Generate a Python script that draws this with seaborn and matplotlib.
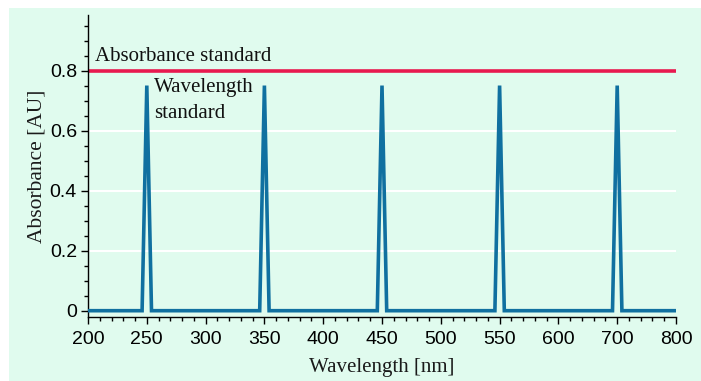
import numpy as np
import pandas as pd
import seaborn as sns
import matplotlib.pyplot as plt
from matplotlib.patches import Rectangle
from matplotlib.ticker import FixedLocator, FixedFormatter

# tick labels on the wavelength axis (evenly spaced, 650 is skipped)
x_ticks = [200, 250, 300, 350, 400, 450, 500, 550, 600, 700, 800]
y_ticks = [0, 0.2, 0.4, 0.6, 0.8]
y_labels = ["0", "0.2", "0.4", "0.6", "0.8"]

# spectrum of the wavelength standard
wavelength = [200, 246, 250, 254, 346, 350, 354, 446, 450, 454,
              546, 550, 554, 692, 700, 708, 800]
absorbance = [0, 0, 0.75, 0, 0, 0.75, 0, 0, 0.75, 0,
              0, 0.75, 0, 0, 0.75, 0, 0]

# absorbance standard level
abs_standard = 0.8

df = pd.DataFrame({"wavelength": wavelength, "absorbance": absorbance})

sns.set_theme(style="white")
plt.rcParams["font.family"] = ["Liberation Serif", "DejaVu Serif"]
tick_font = ["Liberation Sans Narrow", "Liberation Sans", "DejaVu Sans"]

mint = "#e0fbee"
blue = "#1070a0"
red = "#e8194f"

fig = plt.figure(figsize=(7.01, 3.81), dpi=100, facecolor="white")
# mint panel behind everything
fig.patches.append(Rectangle((9 / 701, 0), 1, (381 - 8) / 381, transform=fig.transFigure,
                             facecolor=mint, edgecolor="none", zorder=-10))
ax = fig.add_axes([88 / 701, 64 / 381, 588 / 701, 302 / 381])
ax.set_facecolor(mint)

# piecewise scale so the tick labels sit evenly spaced
idx = np.arange(len(x_ticks), dtype=float)
def fwd(x):
    return np.interp(x, x_ticks, idx)
def inv(p):
    return np.interp(p, idx, x_ticks)
ax.set_xscale("function", functions=(fwd, inv))

for y in y_ticks[1:4]:
    ax.axhline(y, color="white", lw=1.5, zorder=0)

ax.axhline(abs_standard, color=red, lw=2.6, zorder=2)
sns.lineplot(data=df, x="wavelength", y="absorbance", ax=ax, color=blue, lw=2.6,
             solid_joinstyle="miter", zorder=3)

ax.set_xlim(200, 800)
ax.set_ylim(-0.021, 0.985)

ax.xaxis.set_major_locator(FixedLocator(x_ticks))
ax.xaxis.set_major_formatter(FixedFormatter([str(t) for t in x_ticks]))
ax.xaxis.set_minor_locator(FixedLocator(inv(np.arange(0, len(x_ticks) - 1 + 0.01, 0.2))))
ax.yaxis.set_major_locator(FixedLocator(y_ticks))
ax.yaxis.set_major_formatter(FixedFormatter(y_labels))
ax.yaxis.set_minor_locator(FixedLocator(np.arange(0, 0.96, 0.05)))

ax.tick_params(which="major", direction="out", length=5, width=1, color="black",
               bottom=True, left=True, labelsize=14, pad=3, labelcolor="black")
ax.tick_params(which="minor", direction="out", length=3, width=1, color="black",
               bottom=True, left=True)
ax.tick_params(axis="x", which="major", pad=5)
for lab in ax.get_xticklabels() + ax.get_yticklabels():
    lab.set_family(tick_font)

for s in ["top", "right"]:
    ax.spines[s].set_visible(False)
for s in ["left", "bottom"]:
    ax.spines[s].set_color("black")
    ax.spines[s].set_linewidth(1)

ax.set_xlabel("Wavelength [nm]", fontsize=15, color="#1a1a1a", labelpad=7)
ax.set_ylabel("Absorbance [AU]", fontsize=15.5, color="#1a1a1a", labelpad=2)

ax.text(206, 0.832, "Absorbance standard", fontsize=15, color="#111111", va="baseline")
ax.text(256, 0.775, "Wavelength\nstandard", fontsize=15, color="#111111", va="top",
        linespacing=1.5)

fig.savefig("out.png", dpi=100, facecolor="white")
